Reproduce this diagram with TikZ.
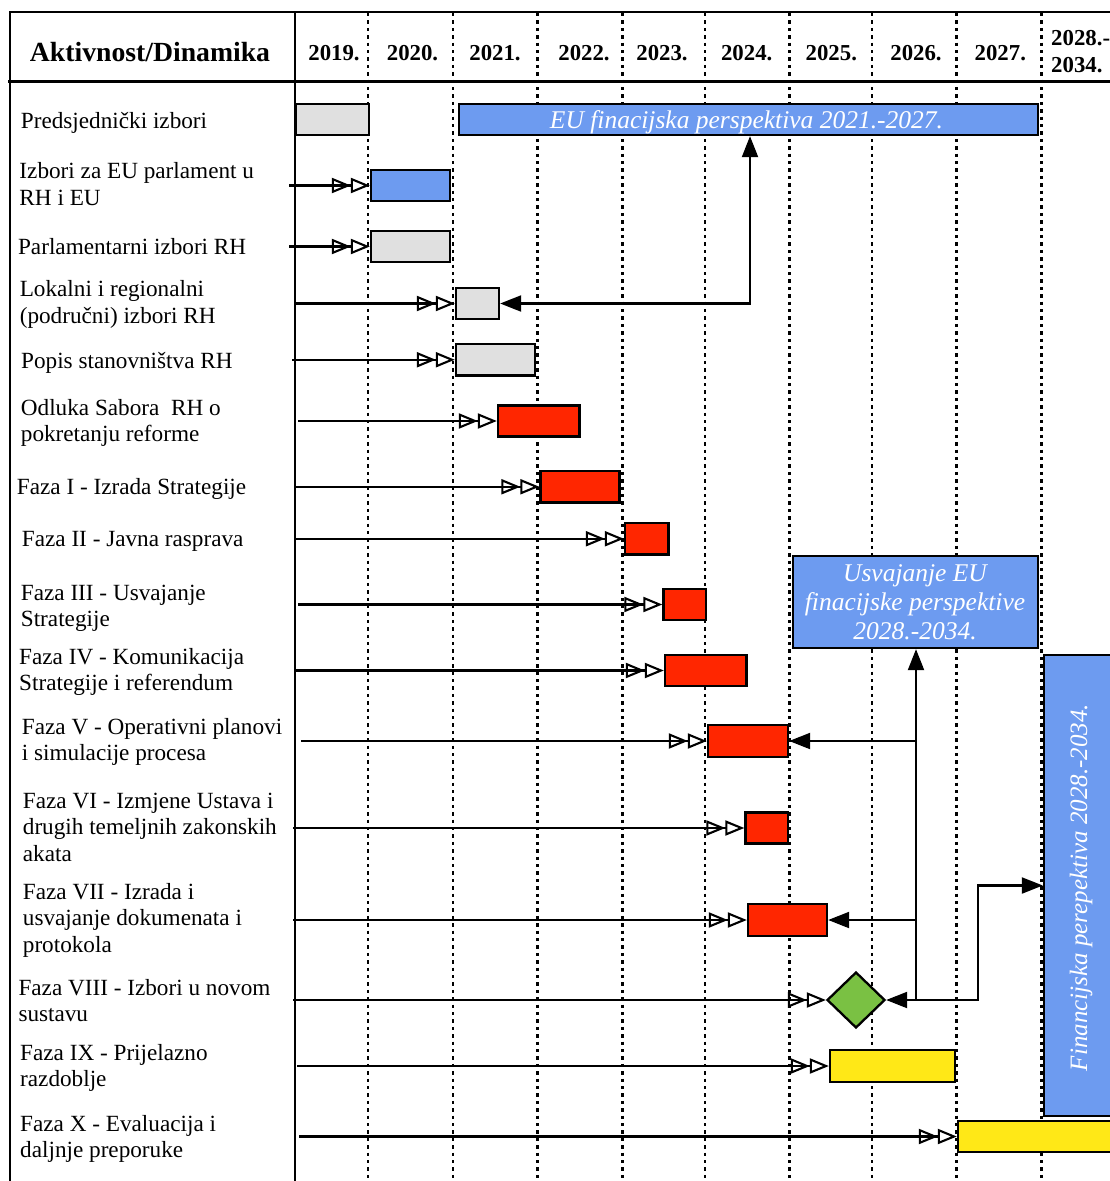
\documentclass[tikz,border=0pt]{standalone}
\usepackage{fontspec}
\setmainfont{Liberation Serif}
\usetikzlibrary{arrows.meta,shapes.geometric,fit}
\definecolor{cgray}{HTML}{E0E0E0}
\definecolor{cblue}{HTML}{6D9BF0}
\definecolor{cred}{HTML}{FF2600}
\definecolor{cgreen}{HTML}{7AC143}
\definecolor{cyellow}{HTML}{FFE817}
\newcommand\gbar[6]{\node[gbar,fill=#2,fit={(#3+1,#4+1) (#5-1,#6-1)}] (#1) {};}
\newcommand\lbl[3]{\node[lbl] (#1) at (#2) {\begin{tabular}[t]{@{}l@{}}#3\end{tabular}};}
\newcommand\dbl[2]{\coordinate (s#1) at (#2,0); \draw[dblarrow] (s#1 |- #1.west) -- (#1.west);}
\begin{document}
\begin{tikzpicture}[x=1pt,y=-1pt,
  frame/.style={line width=2.7pt},
  yearsep/.style={line width=2.3pt, dash pattern=on 3.4pt off 4pt},
  gbar/.style={draw, line width=2.3pt, inner sep=0pt},
  dblarrow/.style={line width=2.1pt, -{Triangle[open,length=19pt,width=15pt,sep=0pt]Triangle[open,length=19pt,width=15pt,sep=0pt]}},
  farrow/.style={line width=2.1pt, -{Triangle[length=21pt,width=16pt]}},
  farrowb/.style={line width=2.1pt, {Triangle[length=21pt,width=16pt]}-{Triangle[length=21pt,width=16pt]}},
  lbl/.style={font=\fontsize{23.2}{26.7}\selectfont, inner sep=0pt, anchor=base west},
  yr/.style={font=\bfseries\fontsize{22.8}{26.6}\selectfont, inner sep=0pt, anchor=base},
  wtxt/.style={text=white, font=\itshape\fontsize{25.5}{28.8}\selectfont, inner sep=0pt, anchor=base}
]
\clip (0,0) rectangle (1110,1181);
\fill[white] (0,0) rectangle (1110,1181);
% year separators
\foreach \xx in {368,453,537.5,622.5,705,789.5,872,956.5,1041.5}
  \draw[yearsep] (\xx,13) -- (\xx,1181);
% frame
\draw[frame] (1112,12) -- (10,12) -- (10,1183);
\draw[frame] (8,81.5) -- (1112,81.5);
\draw[frame] (295,12) -- (295,1183);
% header
\node[font=\bfseries\fontsize{27.7}{30}\selectfont, inner sep=0pt, anchor=base] (hdr) at (150,61) {Aktivnost/Dinamika};
\node[yr] (y19) at (334,60) {2019.};
\node[yr] (y20) at (412.5,60) {2020.};
\node[yr] (y21) at (495,60) {2021.};
\node[yr] (y22) at (584,60) {2022.};
\node[yr] (y23) at (662,60) {2023.};
\node[yr] (y24) at (746.7,60) {2024.};
\node[yr] (y25) at (831.3,60) {2025.};
\node[yr] (y26) at (916,60) {2026.};
\node[yr] (y27) at (1000.3,60) {2027.};
\node[yr, anchor=base west] (y28) at (1051,45.7) {\begin{tabular}[t]{@{}l@{}}2028.-\\2034.\end{tabular}};
% labels
\lbl{l1}{20.7,128.3}{Predsjednički izbori}
\lbl{l2}{19.3,178.3}{Izbori za EU parlament u\\RH i EU}
\lbl{l3}{17.9,254}{Parlamentarni izbori RH}
\lbl{l4}{19.6,296.7}{Lokalni i regionalni\\(područni) izbori RH}
\lbl{l5}{21,368}{Popis stanovništva RH}
\lbl{l6}{20.7,415}{Odluka Sabora\ \ RH o\\pokretanju reforme}
\lbl{l7}{16.7,494}{Faza I - Izrada Strategije}
\lbl{l8}{21.7,546.7}{Faza II - Javna rasprava}
\lbl{l9}{20.7,600}{Faza III - Usvajanje\\Strategije}
\lbl{l10}{19,664}{Faza IV - Komunikacija\\Strategije i referendum}
\lbl{l11}{21.7,734}{Faza V - Operativni planovi\\i simulacije procesa}
\lbl{l12}{22.7,808}{Faza VI - Izmjene Ustava i\\drugih temeljnih zakonskih\\akata}
\lbl{l13}{22.7,899}{Faza VII - Izrada i\\usvajanje dokumenata i\\protokola}
\lbl{l14}{18.3,995}{Faza VIII - Izbori u novom\\sustavu}
\lbl{l15}{20,1060}{Faza IX - Prijelazno\\razdoblje}
\lbl{l16}{20,1131}{Faza X - Evaluacija i\\daljnje preporuke}
% bars
\gbar{b1}{cgray}{295}{103}{370}{136}
\gbar{eu}{cblue}{458}{103}{1039}{136}
\gbar{b2}{cblue}{370}{169}{451}{202}
\gbar{b3}{cgray}{370}{230}{451}{263}
\gbar{b4}{cgray}{455}{287}{500}{320}
\gbar{b5}{cgray}{455}{343}{536}{376.5}
\gbar{b6}{cred}{497}{404.5}{580.5}{437.5}
\gbar{b7}{cred}{539.5}{470}{620.5}{503.5}
\gbar{b8}{cred}{624}{522}{669.5}{555.5}
\gbar{b9}{cred}{662.5}{588}{707}{621}
\gbar{b10}{cred}{664}{654}{747.5}{687}
\gbar{b11}{cred}{707}{724}{789}{758}
\gbar{b12}{cred}{744.5}{811.5}{789}{844.5}
\gbar{b13}{cred}{747}{903}{828}{937}
\node[diamond, aspect=1, draw, line width=2.3pt, fill=cgreen, minimum width=58pt, minimum height=56pt, inner sep=0pt] (b14) at (856,1000) {};
\gbar{b15}{cyellow}{829}{1049}{956}{1083}
\gbar{b16}{cyellow}{957}{1120}{1118}{1153}
\gbar{usv}{cblue}{792}{555}{1039}{649}
\gbar{fin}{cblue}{1043}{654}{1118}{1117}
% texts in blue boxes
\node[wtxt] (eut) at (746.5,128.3) {EU finacijska perspektiva 2021.-2027.};
\node[wtxt] (usvt) at (915,581.7) {\begin{tabular}[t]{@{}c@{}}Usvajanje EU\\finacijske perspektive\\2028.-2034.\end{tabular}};
\node[wtxt, rotate=90, font=\itshape\fontsize{25}{28}\selectfont] (fint) at (1087,887.5) {Financijska perepektiva 2028.-2034.};
% double open arrows
\dbl{b2}{289}
\dbl{b3}{289}
\dbl{b4}{295}
\dbl{b5}{292}
\dbl{b6}{298}
\dbl{b7}{295}
\dbl{b8}{295}
\dbl{b9}{298}
\dbl{b10}{295}
\dbl{b11}{301}
\dbl{b12}{293}
\dbl{b13}{293}
\dbl{b14}{293}
\dbl{b15}{297}
\dbl{b16}{299}
% filled arrows
\coordinate (ja) at (750,0);
\draw[farrowb] (b4.east) -| (ja |- eu.south);
\coordinate (jb) at (916,0);
\coordinate (jc) at (978,0);
\draw[farrow] (jb |- b14.east) -- (jb |- usv.south);
\draw[farrow] (jb |- b11.east) -- (b11.east);
\draw[farrow] (jb |- b13.east) -- (b13.east);
\draw[farrow] (jb |- b14.east) -- (b14.east);
\draw[farrow] (jb |- b14.east) -| (jc |- fin.west) -- (fin.west);
\end{tikzpicture}
\end{document}
